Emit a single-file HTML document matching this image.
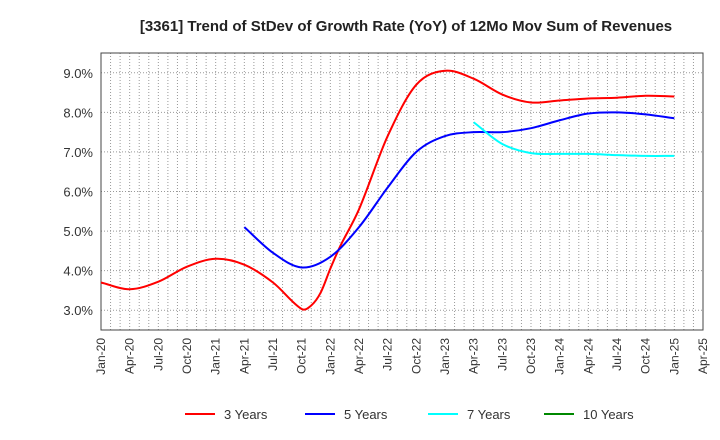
<!DOCTYPE html>
<html><head><meta charset="utf-8"><style>
body{margin:0;background:#fff;font-family:"Liberation Sans",sans-serif}
svg{display:block}
</style></head><body>
<svg id="c" width="720" height="440"></svg>
<script>
const xLabels=["Jan-20","Apr-20","Jul-20","Oct-20","Jan-21","Apr-21","Jul-21","Oct-21","Jan-22","Apr-22","Jul-22","Oct-22","Jan-23","Apr-23","Jul-23","Oct-23","Jan-24","Apr-24","Jul-24","Oct-24","Jan-25","Apr-25"];
const yTicks=[3,4,5,6,7,8,9];
const redMonths=[0,3,6,9,12,15,18,21,22,23,24,25,27,30,33,36,39,42,45,48,51,54,57,60];
const redVals=[3.7,3.53,3.72,4.1,4.3,4.15,3.7,3.03,3.12,3.45,4.05,4.6,5.55,7.4,8.7,9.05,8.85,8.45,8.25,8.3,8.35,8.37,8.42,8.4];
const blueMonths=[15,18,21,24,27,30,33,36,39,42,45,48,51,54,57,60];
const blueVals=[5.1,4.45,4.08,4.35,5.1,6.1,7.0,7.4,7.5,7.5,7.6,7.8,7.97,8.0,7.95,7.85];
const cyanMonths=[39,42,45,48,51,54,57,60];
const cyanVals=[7.75,7.2,6.97,6.95,6.95,6.92,6.9,6.9];
const greenMonths=[];const greenVals=[];
const L=101,R=703,T=53,B=330,yMin=2.5,yMax=9.5,mMax=63;
const X=m=>L+(R-L)*m/mMax, Y=v=>B-(B-T)*(v-yMin)/(yMax-yMin);
const svg=document.getElementById('c');const NS="http://www.w3.org/2000/svg";
function mk(t,a,p){const e=document.createElementNS(NS,t);for(const k in a)e.setAttribute(k,a[k]);(p||svg).appendChild(e);return e;}
let e=mk('text',{x:406,y:31,'text-anchor':'middle','font-size':15,'font-weight':'bold',fill:'#222'});e.textContent="[3361]  Trend of StDev of Growth Rate (YoY) of 12Mo Mov Sum of Revenues";


for(let m=1;m<mMax;m++){e=mk('line',{x1:X(m),x2:X(m),y1:T,y2:B,stroke:'#999','stroke-dasharray':'1,2','stroke-width':1});

}
yTicks.forEach(v=>{e=mk('line',{x1:L,x2:R,y1:Y(v),y2:Y(v),stroke:'#999','stroke-dasharray':'1,2'});


e=mk('text',{x:L-8,y:Y(v)+5,'text-anchor':'end','font-size':13,fill:'#333'});e.textContent=v.toFixed(1)+'%';

});
xLabels.forEach((s,i)=>{const x=X(i*3);e=mk('text',{transform:`translate(${x+4},${B+8}) rotate(-90)`,'text-anchor':'end','font-size':12,fill:'#333'});e.textContent=s;

});
e=mk('rect',{x:L,y:T,width:R-L,height:B-T,fill:'none',stroke:'#444'});


function path(ms,vs,col,name){if(!ms.length)return;const n=ms.length;
const slope=i=>{const a=Math.max(0,i-1),b=Math.min(n-1,i+1);return (vs[b]-vs[a])/(ms[b]-ms[a]);};
let d=`M${X(ms[0])},${Y(vs[0])}`;
for(let i=0;i<n-1;i++){const h=ms[i+1]-ms[i];const s1=slope(i),s2=slope(i+1);
const c1m=ms[i]+h/3,c1v=vs[i]+s1*h/3,c2m=ms[i+1]-h/3,c2v=vs[i+1]-s2*h/3;
d+=`C${X(c1m)},${Y(c1v)} ${X(c2m)},${Y(c2v)} ${X(ms[i+1])},${Y(vs[i+1])}`;}
const el=mk('path',{d,fill:'none',stroke:col,'stroke-width':2});

}
path(redMonths,redVals,'#f00','line-3-years');
path(blueMonths,blueVals,'#00f','line-5-years');
path(cyanMonths,cyanVals,'#0ff','line-7-years');
path(greenMonths,greenVals,'#080','line-10-years');
[["3 Years",'#f00',185],["5 Years",'#00f',305],["7 Years",'#0ff',428],["10 Years",'#080',544]].forEach(([t,c,x])=>{
const g=mk('g',{});

mk('line',{x1:x,x2:x+30,y1:414,y2:414,stroke:c,'stroke-width':2},g);
const tx=mk('text',{x:x+39,y:419,'font-size':13,fill:'#333'},g);tx.textContent=t;});
</script>
</body></html>
